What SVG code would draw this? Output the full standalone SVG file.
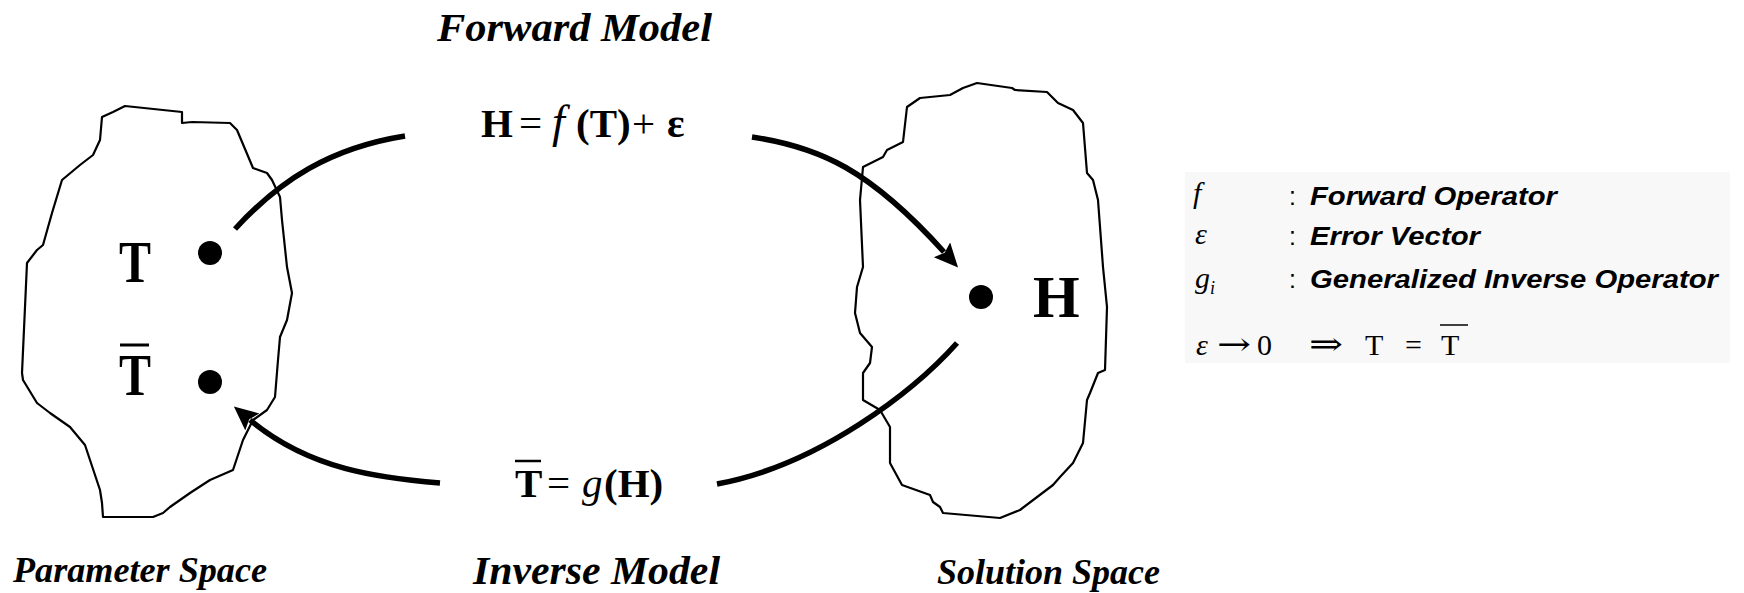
<svg xmlns="http://www.w3.org/2000/svg" width="1744" height="593" viewBox="0 0 1744 593">
<style>
.blob{fill:none;stroke:#000;stroke-width:2.2;stroke-linejoin:round}
.conn{fill:none;stroke:#000;stroke-width:5.5}
.big{font-family:"Liberation Serif","Times New Roman",serif;font-weight:bold;font-size:60px;fill:#000}
.eq{font-family:"Liberation Serif","Times New Roman",serif;font-size:41px;fill:#000}
.b{font-weight:bold}
.i{font-style:italic}
.lab{font-family:"Liberation Serif","Times New Roman",serif;font-weight:bold;font-style:italic;fill:#000}
.leg{font-family:"Liberation Sans",Arial,sans-serif;font-weight:bold;font-style:italic;font-size:25px;fill:#000}
.colon{font-family:"Liberation Sans",Arial,sans-serif;font-size:25px;fill:#000}
.sym{font-family:"Liberation Serif","Times New Roman",serif;font-size:30px;fill:#000}
.arr{font-family:"DejaVu Serif","Liberation Serif",serif;font-size:32px;fill:#000}
.bar{stroke:#000;fill:none}
</style>
<defs>
<marker id="ah" markerUnits="userSpaceOnUse" markerWidth="26" markerHeight="24" refX="3" refY="11" orient="auto">
<path d="M0,0 L24,11 L0,22 L4,11 z" fill="#000"/>
</marker>
</defs>
<rect x="1185" y="172" width="545" height="191" fill="#f8f8f8"/>
<g id="parameter-space">
<path class="blob" d="M125,106 L182,112 L182,123 L192,122 L230,123 L237,130 L253,168 L267,173 L272,180 L280,197 L282,220 L287,267 L292,293 L287,320 L280,337 L278,360 L275,397 L267,410 L253,420 L243,440 L233,470 L210,480 L190,493 L170,507 L163,513 L153,517 L103,517 L102,503 L100,490 L85,445 L70,427 L50,413 L37,403 L23,380 L22,373 L27,263 L37,250 L43,245 L52,213 L62,180 L80,165 L93,155 L100,140 L102,117 L113,112 Z"/>
<text class="lab" x="13" y="582" font-size="35" textLength="254" lengthAdjust="spacingAndGlyphs">Parameter Space</text>
</g>
<g id="node-T">
<text class="big" x="119" y="282" textLength="32" lengthAdjust="spacingAndGlyphs">T</text>
<circle cx="210" cy="253" r="12" fill="#000"/>
</g>
<g id="node-Tbar">
<text class="big" x="119" y="395" textLength="32" lengthAdjust="spacingAndGlyphs">T</text>
<line class="bar" x1="120" y1="345" x2="149" y2="345" stroke-width="3"/>
<circle cx="210" cy="382" r="12" fill="#000"/>
</g>
<g id="solution-space">
<path class="blob" d="M977,83 L1012,88 L1015,90 L1047,92 L1058,103 L1073,110 L1083,123 L1087,173 L1093,180 L1098,200 L1103,267 L1107,307 L1105,370 L1098,373 L1090,393 L1087,400 L1083,443 L1073,463 L1060,477 L1053,485 L1020,510 L1000,518 L943,513 L940,507 L933,502 L930,495 L902,485 L890,463 L890,427 L880,410 L863,400 L863,373 L870,363 L872,347 L860,333 L855,313 L857,287 L863,267 L860,200 L863,167 L883,157 L887,150 L903,142 L907,107 L920,98 L950,95 L963,88 Z"/>
<text class="lab" x="937" y="584" font-size="35" textLength="223" lengthAdjust="spacingAndGlyphs">Solution Space</text>
</g>
<g id="node-H">
<circle cx="981" cy="297" r="12" fill="#000"/>
<text class="big" x="1033" y="317">H</text>
</g>
<g id="forward-model">
<text class="lab" x="437" y="41" font-size="41" textLength="275" lengthAdjust="spacingAndGlyphs">Forward Model</text>
<text class="eq" y="137"><tspan class="b" x="481">H</tspan><tspan x="519">=</tspan><tspan class="i" x="552" font-size="46">f</tspan><tspan class="b" x="576">(T)</tspan><tspan x="632">+</tspan><tspan class="b" x="667">ε</tspan></text>
</g>
<g id="inverse-model">
<text class="eq" y="497"><tspan class="b" x="515">T</tspan><tspan x="547">=</tspan><tspan class="i" x="582">g</tspan><tspan class="b" x="604">(H)</tspan></text>
<line class="bar" x1="515" y1="461" x2="541" y2="461" stroke-width="2.5"/>
<text class="lab" x="473" y="584" font-size="41" textLength="247" lengthAdjust="spacingAndGlyphs">Inverse Model</text>
</g>
<g id="connectors">
<path class="conn" d="M235,229 C280,180 330,148 405,136"/>
<path class="conn" d="M752,137 C820,147 870,170 944,252" marker-end="url(#ah)"/>
<path class="conn" d="M957,343 C915,390 820,465 717,484"/>
<path class="conn" d="M440,483 C380,478 310,470 250,420" marker-end="url(#ah)"/>
</g>
<g id="legend">
<text class="sym i" x="1193" y="203">f</text>
<text class="colon" x="1289" y="205">:</text>
<text class="leg" x="1310" y="205" textLength="247" lengthAdjust="spacingAndGlyphs">Forward Operator</text>
<text class="sym i" x="1195" y="244">ε</text>
<text class="colon" x="1289" y="245">:</text>
<text class="leg" x="1310" y="245" textLength="170" lengthAdjust="spacingAndGlyphs">Error Vector</text>
<text class="sym i" x="1195" y="288">g<tspan font-size="18" dy="6">i</tspan></text>
<text class="colon" x="1289" y="288">:</text>
<text class="leg" x="1310" y="288" textLength="408" lengthAdjust="spacingAndGlyphs">Generalized Inverse Operator</text>
<text class="sym i" x="1196" y="355">ε</text>
<text class="arr" x="1217" y="355" textLength="34" lengthAdjust="spacingAndGlyphs">→</text>
<text class="sym" x="1257" y="355">0</text>
<text class="arr" x="1309" y="355" textLength="34" lengthAdjust="spacingAndGlyphs">⇒</text>
<text class="sym" x="1365" y="355">T</text>
<text class="sym" x="1405" y="355">=</text>
<text class="sym" x="1441" y="355">T</text>
<line class="bar" x1="1440" y1="325" x2="1468" y2="325" stroke-width="1.5"/>
</g>
</svg>
